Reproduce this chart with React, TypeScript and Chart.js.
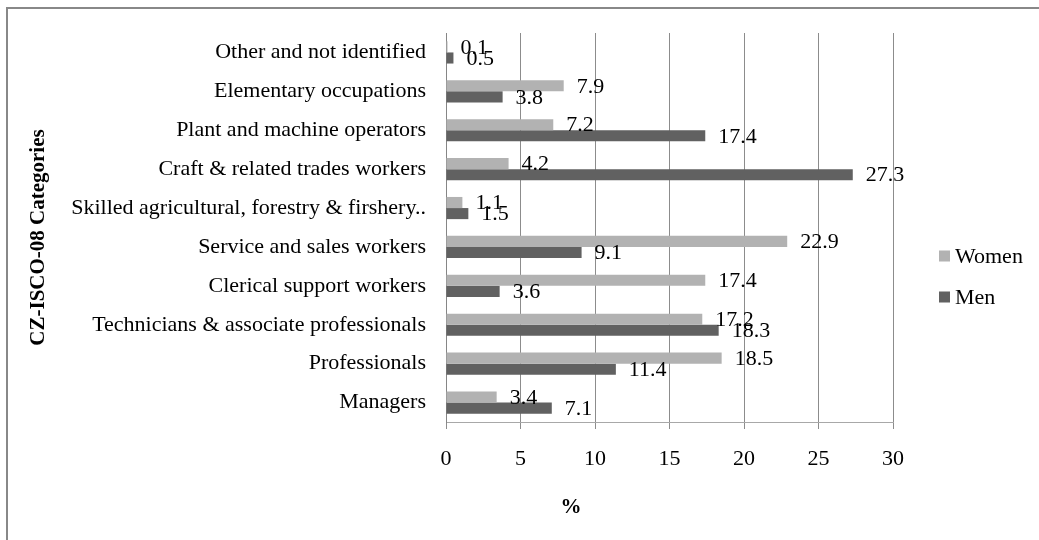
import React, { useEffect, useRef } from "react";
import { Chart, registerables } from "chart.js";

Chart.register(...registerables);

// ---- data ----
const categories = [
  "Managers",
  "Professionals",
  "Technicians & associate professionals",
  "Clerical support workers",
  "Service and sales workers",
  "Skilled agricultural, forestry & firshery..",
  "Craft & related trades workers",
  "Plant and machine operators",
  "Elementary occupations",
  "Other and not identified",
];
const women = [3.4, 18.5, 17.2, 17.4, 22.9, 1.1, 4.2, 7.2, 7.9, 0.1];
const men = [7.1, 11.4, 18.3, 3.6, 9.1, 1.5, 27.3, 17.4, 3.8, 0.5];
const seriesNames = ["Women", "Men"];
const xMin = 0;
const xMax = 30;
const xStep = 5;
const yTitle = "CZ-ISCO-08 Categories";
const xTitle = "%";

// ---- style ----
const FONT = "'Liberation Serif', 'Times New Roman', serif";
const COLORS = ["#b2b2b2", "#616161"];

const annotate = {
  id: "annotate",
  afterDatasetsDraw(chart: any) {
    const { ctx, chartArea } = chart;
    ctx.save();
    // data labels
    ctx.font = `22px ${FONT}`;
    ctx.fillStyle = "#000";
    ctx.textAlign = "left";
    ctx.textBaseline = "middle";
    chart.data.datasets.forEach((ds: any, i: number) => {
      const meta = chart.getDatasetMeta(i);
      meta.data.forEach((el: any, j: number) => {
        const v = ds.data[j];
        ctx.fillText(Number(v).toFixed(1), el.x + 13, el.y + 1);
      });
    });
    // legend
    const lx = chartArea.right + 46;
    const midY = (chartArea.top + chartArea.bottom) / 2 + 49;
    chart.data.datasets.forEach((ds: any, i: number) => {
      const cy = midY + (i - 0.5) * 41;
      ctx.fillStyle = ds.backgroundColor;
      ctx.fillRect(lx, cy - 5.5, 11, 11);
      ctx.fillStyle = "#000";
      ctx.font = `22px ${FONT}`;
      ctx.fillText(ds.label, lx + 16, cy + 1);
    });
    // axis titles
    ctx.font = `bold 21px ${FONT}`;
    ctx.textAlign = "center";
    ctx.fillText(xTitle, chartArea.left + 125, chartArea.bottom + 86);
    ctx.save();
    ctx.translate(39, (chartArea.top + chartArea.bottom) / 2 + 10);
    ctx.rotate(-Math.PI / 2);
    ctx.fillText(yTitle, 0, 0);
    ctx.restore();
    ctx.restore();
  },
};

export default function App() {
  const ref = useRef<HTMLCanvasElement | null>(null);

  useEffect(() => {
    if (!ref.current) return;
    Chart.defaults.font.family = FONT;
    const chart = new Chart(ref.current, {
      type: "bar",
      data: {
        labels: categories,
        datasets: [
          {
            label: seriesNames[0],
            data: women,
            backgroundColor: COLORS[0],
            categoryPercentage: 0.57,
            barPercentage: 1,
          },
          {
            label: seriesNames[1],
            data: men,
            backgroundColor: COLORS[1],
            categoryPercentage: 0.57,
            barPercentage: 1,
          },
        ],
      },
      options: {
        indexAxis: "y",
        responsive: false,
        animation: false,
        layout: { padding: { top: 33, right: 146, bottom: 0, left: 0 } },
        plugins: {
          legend: { display: false },
          tooltip: { enabled: false },
          title: { display: false },
        },
        scales: {
          x: {
            min: xMin,
            max: xMax,
            ticks: {
              stepSize: xStep,
              color: "#000",
              font: { size: 22, family: FONT },
              padding: 17,
            },
            grid: {
              color: "#8c8c8c",
              lineWidth: 1,
              tickLength: 7,
              drawTicks: true,
            },
            border: { display: true, color: "#a8a8a8", width: 1 },
            afterFit: (scale: any) => {
              scale.height = 118;
            },
          },
          y: {
            reverse: true,
            ticks: {
              color: "#000",
              font: { size: 22, family: FONT },
              padding: 12,
              autoSkip: false,
            },
            grid: { display: false },
            border: { display: true, color: "#868686", width: 1 },
            afterFit: (scale: any) => {
              scale.width = 446;
            },
          },
        },
      },
      plugins: [annotate],
    } as any);
    return () => chart.destroy();
  }, []);

  return (
    <div style={{ position: "absolute", left: 0, top: 0, width: 1039, height: 540, background: "#fff", overflow: "hidden" }}>
      <canvas ref={ref} width={1039} height={540} style={{ position: "absolute", left: 0, top: 0, width: 1039, height: 540 }} />
      <div
        style={{
          position: "absolute",
          left: 6,
          top: 7,
          right: 0,
          bottom: 0,
          borderTop: "2px solid #888",
          borderLeft: "2px solid #888",
          pointerEvents: "none",
        }}
      />
    </div>
  );
}
